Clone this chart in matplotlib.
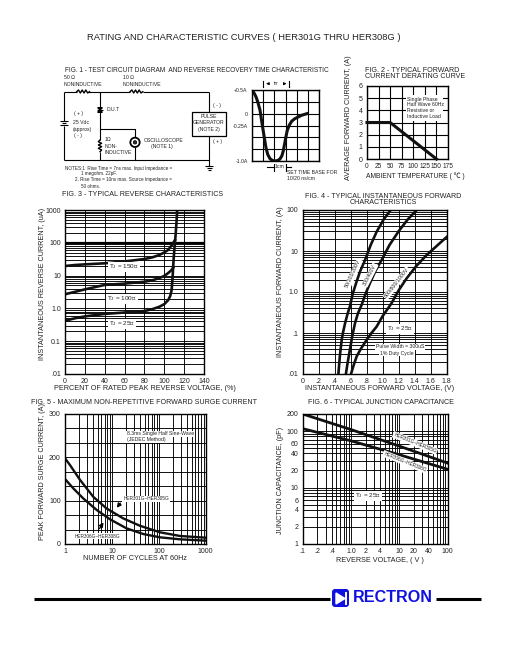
import numpy as np
import matplotlib
matplotlib.use("Agg")
import matplotlib.pyplot as plt
from matplotlib.patches import Rectangle, Circle, FancyBboxPatch, Polygon

plt.rcParams['font.family'] = ['Liberation Sans', 'Noto Sans CJK SC', 'DejaVu Sans']
plt.rcParams['mathtext.fontset'] = 'custom'
plt.rcParams['mathtext.rm'] = 'Liberation Sans'
plt.rcParams['mathtext.default'] = 'regular'
plt.rcParams['text.color'] = '#222222'

W, H = 513, 649
TXT = 5.1
TICK = 5.0
LBL = 5.2
SMALL = 3.7
GRID = 0.65

# fig 1 scope trace (time in divisions, amps)
scope_t = [0, .2, .38, .55, .74, .97, 1.26, 1.42, 1.62, 1.85, 2.06, 2.3, 2.5, 2.68, 2.8, 3.03, 3.15, 3.32, 3.55, 3.82, 4.41, 4.9]
scope_i = [.5, .44, .357, .24, .07, -.286, -.71, -.86, -.95, -.99, -1.0, -.99, -.96, -.89, -.79, -.5, -.36, -.25, -.16, -.107, -.036, 0]
scope_yticks = [.5, 0, -.25, -1.0]
scope_ylabels = ['+0.5A', '0', '-0.25A', '-1.0A']

# fig 2
derate_t = [0, 50, 150]
derate_i = [3, 3, 0]
derate_xt = [0, 25, 50, 75, 100, 125, 150, 175]

# fig 3
rev_v_150 = [0, 10, 20, 40, 60, 80, 88, 95, 100, 103.7, 107, 110.8]
rev_i_150 = [19.6, 21, 22, 23.7, 27, 32, 36, 42.5, 51, 60, 80, 121]
rev_v_100 = [0, 10, 20, 40, 60, 80, 88, 95, 100, 104, 107, 109]
rev_i_100 = [2.7, 3.2, 3.8, 5.2, 5.7, 6.5, 7.2, 8.4, 9.8, 12, 14.5, 17.4]
rev_v_25 = [0, 10, 20, 40, 60, 80, 88, 95, 100, 104, 106, 107.4, 108.4, 109, 109.7, 110.5, 111.4, 112.3, 113]
rev_i_25 = [.42, .5, .57, .68, .75, .83, .95, 1.12, 1.35, 1.8, 2.4, 3.6, 9.3, 20, 42, 85, 174, 420, 1000]
rev_yt = [.01, .1, 1, 10, 100, 1000]
rev_yl = ['.01', '0.1', '1.0', '10', '100', '1000']

# fig 4
fwd_v_a = [.446, .465, .4875, .505, .53, .56, .59, .625, .667, .72, .78, .85, .925, 1.01, 1.1]
fwd_i_a = [.01, .028, .0685, .105, .174, .29, .444, .9, 1.64, 3.3, 6.07, 14, 29.7, 58, 100]
fwd_v_b = [.54, .56, .59, .62, .654, .69, .7375, .785, .84, .91, .9875, 1.085, 1.196, 1.31, 1.425]
fwd_i_b = [.01, .018, .039, .085, .174, .3, .49, .9, 1.64, 3.3, 6.07, 14, 29.7, 58, 100]
fwd_v_c = [.604, .635, .675, .73, .8, .86, .925, 1.0, 1.11, 1.2, 1.3, 1.42, 1.55, 1.67, 1.8]
fwd_i_c = [.01, .016, .027, .042, .0685, .1, .144, .26, .53, 1.1, 2.17, 4.3, 8, 13, 22]
fwd_xt = [0, .2, .4, .6, .8, 1.0, 1.2, 1.4, 1.6, 1.8]
fwd_xl = ['0', '.2', '.4', '.6', '.8', '1.0', '1.2', '1.4', '1.6', '1.8']
fwd_yt = [.01, .1, 1, 10, 100]
fwd_yl = ['.01', '.1', '1.0', '10', '100']

# fig 5
cycles_a = [1, 1.28, 2.09, 4.0, 7.7, 17.5, 39.8, 106, 283, 1000]
surge_a = [198, 182, 148, 109, 82, 59, 42, 27, 18.5, 14.6]
cycles_b = [1, 1.5, 2.46, 4.74, 9.1, 20.6, 46.8, 106, 283, 1000]
surge_b = [150, 128.5, 105, 78.5, 57, 36, 23, 15.4, 10.8, 7.7]

# fig 6
volts = [.1, 1, 10, 100]
cap_a = [200, 106, 54, 27]
cap_b = [110, 67, 38, 21]
cap_xt = [.1, .2, .4, 1, 2, 4, 10, 20, 40, 100]
cap_xl = ['.1', '.2', '.4', '1.0', '2', '4', '10', '20', '40', '100']
cap_yt = [1, 2, 4, 6, 10, 20, 40, 60, 100, 200]


def make_axes(l, t, r, b):
    ax = fig.add_axes([l / W, 1 - b / H, (r - l) / W, (b - t) / H])
    ax.tick_params(which='both', length=0, labelsize=TICK, pad=3, colors='#222222')
    for s in ax.spines.values():
        s.set_linewidth(1.0)
    ax.set_axisbelow(True)
    return ax


def log_lines(lo, hi):
    return [m * 10.0 ** e for e in range(lo, hi) for m in range(1, 10)]


fig = plt.figure(figsize=(W / 100, H / 100), dpi=100)

# fig 1 circuit, coordinates are 3x px from (50,60)
c = fig.add_axes([50 / W, 1 - 195 / H, 290 / W, 135 / H])
c.set_xlim(0, 870)
c.set_ylim(405, 0)
c.axis('off')
wires = [
    ([42, 80], [95, 95]), ([115, 240], [95, 95]), ([280, 478], [95, 95]),
    ([42, 42], [95, 183]), ([42, 42], [197, 300]), ([42, 478], [300, 300]),
    ([150, 150], [95, 240]), ([150, 150], [275, 300]),
    ([150, 255, 255], [207, 207, 232]), ([255, 255], [262, 300]),
    ([478, 478], [95, 155]), ([478, 478], [227, 318]),
    ([466, 490], [318, 318]), ([470, 486], [324, 324]), ([474, 482], [330, 330]),
    ([30, 54], [184, 184]), ([36, 48], [190, 190]), ([30, 54], [196, 196]),
    ([142, 158], [150, 150]),
]
for xs, ys in wires:
    c.plot(xs, ys, color='k', lw=0.8, solid_capstyle='butt')
for x0 in (80, 240):
    c.plot(x0 + np.arange(8) * 5.5, 95 + np.array([0, -5, 4, -5, 4, -5, 4, 0]), color='k', lw=1.0)
c.plot(150 + np.array([0, -5, 5, -5, 5, -5, 5, 0]), 240 + np.arange(8) * 5, color='k', lw=1.0)
c.add_patch(Polygon([[143, 143], [157, 143], [150, 150]], color='k'))
c.add_patch(Polygon([[143, 157], [157, 157], [150, 150]], color='k'))
c.add_patch(Rectangle((425, 155), 102, 72, fc='w', ec='k', lw=0.9, zorder=3))
c.add_patch(Circle((255, 247), 14, fc='w', ec='k', lw=1.3, zorder=3))
c.add_patch(Circle((255, 247), 5, fc='#333333', ec='k', lw=0.6, zorder=4))
for x, y, s in [
    (42, 52, '50 Ω'), (42, 72, 'NONINDUCTIVE'), (218, 52, '10 Ω'), (218, 72, 'NONINDUCTIVE'),
    (170, 148, 'D.U.T'), (72, 160, '( + )'), (68, 186, '25 Vdc'), (68, 208, '(approx)'),
    (72, 228, '( - )'), (163, 238, '1Ω'), (163, 258, 'NON-'), (163, 278, 'INDUCTIVE'),
    (282, 240, 'OSCILLOSCOPE'), (303, 260, '(NOTE 1)'), (490, 135, '( - )'), (490, 243, '( + )'),
    (712, 337, 'SET TIME BASE FOR'), (712, 355, '10/20 ns/cm'),
]:
    c.text(x, y, s, fontsize=SMALL, va='center', ha='left')
for x, y, s in [
    (45, 325, 'NOTES:1  Rise Time = 7ns max. Input Impedance ='), (92, 342, '1 megohm. 22pF.'),
    (74, 360, '2. Rise Time = 10ns max. Source Impedance ='), (92, 378, '50 ohms.'),
]:
    c.text(x, y, s, fontsize=3.35, va='center', ha='left')
for y, s in [(170, 'PULSE'), (187, 'GENERATOR'), (208, '(NOTE 2)')]:
    c.text(476, y, s, fontsize=SMALL, va='center', ha='center', zorder=5)
c.plot([640, 640], [62, 80], color='k', lw=0.8)
c.plot([718, 718], [62, 80], color='k', lw=0.8)
c.annotate('', (640, 71), (665, 71), arrowprops=dict(arrowstyle='-|>', lw=0.6, color='k', mutation_scale=4))
c.annotate('', (718, 71), (695, 71), arrowprops=dict(arrowstyle='-|>', lw=0.6, color='k', mutation_scale=4))
c.text(680, 71, 'trr', fontsize=SMALL, ha='center', va='center')
c.plot([672, 672], [312, 332], color='k', lw=0.8)
c.plot([708, 708], [312, 332], color='k', lw=0.8)
c.plot([650, 672], [322, 322], color='k', lw=0.8)
c.plot([708, 722], [322, 322], color='k', lw=0.8)
c.text(690, 319, '1cm', fontsize=SMALL, ha='center', va='center')

# scope
ax = make_axes(251.7, 90, 319.3, 161)
ax.set_xlim(0, 6)
ax.set_ylim(-1.0, .5)
ax.set_xticks(range(7))
ax.set_xticklabels([])
ax.set_yticks(np.arange(-1.0, .51, .25), minor=True)
ax.set_yticks(scope_yticks)
ax.set_yticklabels(scope_ylabels, fontsize=SMALL)
ax.grid(which='both', color='k', lw=0.8)
ax.plot(scope_t, scope_i, color='#111111', lw=2.2)

# fig 2
ax = make_axes(367, 86, 448, 159)
ax.set_xlim(0, 175)
ax.set_ylim(0, 6)
ax.set_xticks(derate_xt)
ax.set_yticks(range(7))
ax.tick_params(axis='x', labelsize=4.7)
ax.grid(color='k', lw=0.8)
ax.plot(derate_t, derate_i, color='#111111', lw=2.2, clip_on=False, zorder=4)

# fig 3
ax = make_axes(65, 210, 204, 374)
ax.set_yscale('log')
ax.set_xlim(0, 140)
ax.set_ylim(.01, 1000)
ax.set_xticks(range(0, 141, 20))
ax.set_yticks(log_lines(-2, 3), minor=True)
ax.set_yticklabels([], minor=True)
ax.set_yticks(rev_yt)
ax.set_yticklabels(rev_yl)
ax.grid(which='both', color='k', lw=GRID)
ax.axhline(100, color='k', lw=1.6, zorder=1)
ax.plot(rev_v_150, rev_i_150, color='#111111', lw=1.9)
ax.plot(rev_v_100, rev_i_100, color='#111111', lw=1.9)
ax.plot(rev_v_25, rev_i_25, color='#111111', lw=1.9)

# fig 4
ax = make_axes(302.7, 210, 446.7, 374)
ax.set_yscale('log')
ax.set_xlim(0, 1.8)
ax.set_ylim(.01, 100)
ax.set_xticks(fwd_xt)
ax.set_xticklabels(fwd_xl)
ax.set_yticks(log_lines(-2, 2), minor=True)
ax.set_yticklabels([], minor=True)
ax.set_yticks(fwd_yt)
ax.set_yticklabels(fwd_yl)
ax.grid(which='both', axis='y', color='k', lw=GRID)
ax.grid(which='major', axis='x', color='k', lw=GRID)
ax.plot(fwd_v_a, fwd_i_a, color='#111111', lw=1.9)
ax.plot(fwd_v_b, fwd_i_b, color='#111111', lw=1.9)
ax.plot(fwd_v_c, fwd_i_c, color='#111111', lw=1.9)

# fig 5
ax = make_axes(65, 414, 205.7, 544)
ax.set_xscale('log')
ax.set_xlim(1, 1000)
ax.set_ylim(0, 300)
ax.set_xticks(log_lines(0, 3), minor=True)
ax.set_xticklabels([], minor=True)
ax.set_xticks([1, 10, 100, 1000])
ax.set_xticklabels(['1', '10', '100', '1000'])
ax.set_yticks(np.arange(0, 301, 100 / 3), minor=True)
ax.set_yticks([0, 100, 200, 300])
ax.grid(which='both', color='k', lw=GRID)
ax.plot(cycles_a, surge_a, color='#111111', lw=1.7)
ax.plot(cycles_b, surge_b, color='#111111', lw=1.7)

# fig 6
ax = make_axes(302.7, 414, 447.7, 544)
ax.set_xscale('log')
ax.set_yscale('log')
ax.set_xlim(.1, 100)
ax.set_ylim(1, 200)
ax.set_xticks(log_lines(-1, 2), minor=True)
ax.set_xticklabels([], minor=True)
ax.set_yticks(log_lines(0, 2) + [200], minor=True)
ax.set_yticklabels([], minor=True)
ax.set_xticks(cap_xt)
ax.set_xticklabels(cap_xl)
ax.set_yticks(cap_yt)
ax.set_yticklabels([str(v) for v in cap_yt])
ax.grid(which='both', color='k', lw=GRID)
ax.plot(volts, cap_a, color='#111111', lw=2.0)
ax.plot(volts, cap_b, color='#111111', lw=2.0)

# page overlay in pixels
p = fig.add_axes([0, 0, 1, 1], zorder=10)
p.set_xlim(0, W)
p.set_ylim(H, 0)
p.axis('off')
p.patch.set_alpha(0)


def t(x, y, s, size=TXT, ha='center', rot=0, box=False, **kw):
    if box:
        kw['bbox'] = dict(fc='w', ec='none', pad=0.6)
    p.text(x, y, s, fontsize=size, ha=ha, va='center', rotation=rot, rotation_mode='anchor', **kw)


t(244, 38, 'RATING AND CHARACTERISTIC CURVES ( HER301G THRU HER308G )', size=6.75)
t(65, 71, 'FIG. 1 - TEST CIRCUIT DIAGRAM  AND REVERSE RECOVERY TIME CHARACTERISTIC', size=4.73, ha='left')
t(365, 70, 'FIG. 2 - TYPICAL FORWARD', ha='left')
t(365, 77, 'CURRENT DERATING CURVE', ha='left')
t(143, 195, 'FIG. 3 - TYPICAL REVERSE CHARACTERISTICS')
t(383, 196, 'FIG. 4 - TYPICAL INSTANTANEOUS FORWARD')
t(383, 202, 'CHARACTERISTICS')
t(144, 402, 'FIG. 5 - MAXIMUM NON-REPETITIVE FORWARD SURGE CURRENT')
t(381, 402, 'FIG. 6 - TYPICAL JUNCTION CAPACITANCE')

t(348, 118, 'AVERAGE FORWARD CURRENT, (A)', size=LBL, rot=90)
t(43, 284, 'INSTANTANEOUS REVERSE CURRENT, (uA)', size=LBL, rot=90)
t(281, 282, 'INSTANTANEOUS FORWARD CURRENT, (A)', size=LBL, rot=90)
t(43, 472, 'PEAK FORWARD SURGE CURRENT, (A)', size=LBL, rot=90)
t(281, 480, 'JUNCTION CAPACITANCE, (pF)', size=LBL, rot=90)

t(415, 176, 'AMBIENT TEMPERATURE ( ℃ )', size=4.9)
t(145, 389, 'PERCENT OF RATED PEAK REVERSE VOLTAGE, (%)', size=LBL)
t(380, 389, 'INSTANTANEOUS FORWARD VOLTAGE, (V)', size=LBL)
t(135, 559, 'NUMBER OF CYCLES AT 60Hz', size=LBL)
t(380, 560, 'REVERSE VOLTAGE, ( V )', size=LBL)

p.add_patch(Rectangle((405.7, 95), 37.6, 25.7, fc='w', ec='none'))
for y, s in [(99, 'Single Phase'), (104, 'Half Wave 60Hz'), (110, 'Resistive or'), (116, 'Inductive Load')]:
    t(407, y, s, size=SMALL, ha='left')

t(124, 267, 'T$_J$ = 150℃', size=4.6, box=True)
t(122, 299, 'T$_J$ = 100℃', size=4.6, box=True)
t(122, 324, 'T$_J$ = 25℃', size=4.6, box=True)

t(353.3, 274, '50/100/200V', size=3.8, rot=65, box=True)
t(370, 275, '300/400V', size=3.8, rot=63, box=True)
t(396.7, 283, '600/800/1000V', size=3.8, rot=52, box=True)
t(400, 329, 'T$_J$ = 25℃', size=4.6, box=True)
t(400, 347, 'Pulse Width = 300uS', size=SMALL, box=True)
t(397, 353, '1% Duty Cycle', size=SMALL, box=True)

t(126.7, 434, '8.3ms Single Half Sine-Wave', size=SMALL, ha='left', box=True)
t(126.7, 440, '(JEDEC Method)', size=SMALL, ha='left', box=True)
t(146, 499, 'HER301G~HER305G', size=3.4, box=True)
t(97, 536, 'HER306G~HER308G', size=3.4, box=True)
p.annotate('', (115, 510), (122, 501), arrowprops=dict(arrowstyle='-|>', lw=1.0, color='k', mutation_scale=6))
p.annotate('', (105, 520), (98, 531), arrowprops=dict(arrowstyle='-|>', lw=1.0, color='k', mutation_scale=6))

t(415, 443, 'HER301G~HER305G', size=3.4, rot=-22, box=True)
t(405, 462, 'HER306G~HER308G', size=3.4, rot=-22, box=True)
t(368, 496, 'T$_J$ = 25℃', size=4.6, box=True)

# footer rule and logo
p.plot([34, 330], [598.5, 598.5], color='k', lw=2.2, solid_capstyle='butt')
p.plot([436, 481], [598.5, 598.5], color='k', lw=2.2, solid_capstyle='butt')
p.add_patch(FancyBboxPatch((334, 591), 13, 14, boxstyle='round,pad=2,rounding_size=3', fc='#1010e0', ec='none'))
p.add_patch(Polygon([[336, 593], [336, 604], [345, 598.5]], color='w'))
p.plot([345.5, 345.5], [593, 604], color='w', lw=1.4)
p.text(392.5, 598, 'RECTRON', fontsize=11.6, fontweight='bold', color='#1010e0', ha='center', va='center')

fig.savefig('out.png', dpi=100)
